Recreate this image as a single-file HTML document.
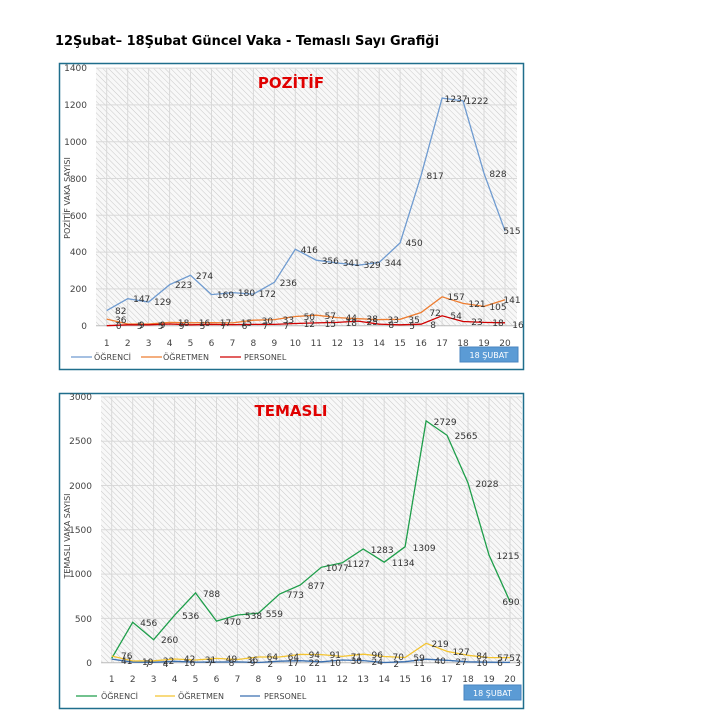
<!DOCTYPE html>
<html><head><meta charset="utf-8"><style>
body{margin:0;background:#fff;width:714px;height:727px;overflow:hidden}
svg{display:block}
text{font-family:"DejaVu Sans","Liberation Sans",sans-serif}
</style></head><body>
<svg width="714" height="727" viewBox="0 0 714 727" xmlns="http://www.w3.org/2000/svg">
<defs>
<pattern id="h" width="4" height="4" patternUnits="userSpaceOnUse" patternTransform="rotate(-45)">
<rect width="4" height="4" fill="#f8f8f8"/><line x1="0" y1="0" x2="0" y2="4" stroke="#c9c9c9" stroke-width="1"/>
</pattern>
</defs>
<text x="55" y="45" font-size="13" font-weight="bold" fill="#000" textLength="384" lengthAdjust="spacingAndGlyphs">12Şubat– 18Şubat Güncel Vaka - Temaslı Sayı Grafiği</text>

<!-- CHART 1 -->
<rect x="59.5" y="63.5" width="464" height="306" fill="#fff" stroke="#1f6e8c" stroke-width="1.5"/>
<rect x="96" y="68" width="421" height="258" fill="url(#h)"/>
<g stroke="#d9d9d9" stroke-width="1">
<line x1="96" x2="517" y1="288.9" y2="288.9"/><line x1="96" x2="517" y1="252.1" y2="252.1"/><line x1="96" x2="517" y1="215.3" y2="215.3"/><line x1="96" x2="517" y1="178.5" y2="178.5"/><line x1="96" x2="517" y1="141.7" y2="141.7"/><line x1="96" x2="517" y1="104.9" y2="104.9"/><line x1="96" x2="517" y1="68.1" y2="68.1"/>
<line x1="106.7" x2="106.7" y1="68" y2="326"/><line x1="127.7" x2="127.7" y1="68" y2="326"/><line x1="148.6" x2="148.6" y1="68" y2="326"/><line x1="169.6" x2="169.6" y1="68" y2="326"/><line x1="190.5" x2="190.5" y1="68" y2="326"/><line x1="211.5" x2="211.5" y1="68" y2="326"/><line x1="232.5" x2="232.5" y1="68" y2="326"/><line x1="253.4" x2="253.4" y1="68" y2="326"/><line x1="274.4" x2="274.4" y1="68" y2="326"/><line x1="295.3" x2="295.3" y1="68" y2="326"/><line x1="316.3" x2="316.3" y1="68" y2="326"/><line x1="337.3" x2="337.3" y1="68" y2="326"/><line x1="358.2" x2="358.2" y1="68" y2="326"/><line x1="379.2" x2="379.2" y1="68" y2="326"/><line x1="400.1" x2="400.1" y1="68" y2="326"/><line x1="421.1" x2="421.1" y1="68" y2="326"/><line x1="442.1" x2="442.1" y1="68" y2="326"/><line x1="463" x2="463" y1="68" y2="326"/><line x1="484" x2="484" y1="68" y2="326"/><line x1="505" x2="505" y1="68" y2="326"/>
<line x1="96" x2="517" y1="325.7" y2="325.7" stroke="#bbb"/>
</g>
<g font-size="9" fill="#444" text-anchor="end">
<text x="87" y="329">0</text><text x="87" y="292">200</text><text x="87" y="255">400</text><text x="87" y="219">600</text><text x="87" y="182">800</text><text x="87" y="145">1000</text><text x="87" y="108">1200</text><text x="87" y="71">1400</text>
</g>
<text transform="translate(70,198) rotate(-90)" font-size="8" fill="#444" text-anchor="middle">POZİTİF VAKA SAYISI</text>
<text x="291" y="88" font-size="15" font-weight="bold" fill="#e00000" text-anchor="middle">POZİTİF</text>
<g font-size="9" fill="#444" text-anchor="middle">
<text x="106.7" y="346">1</text><text x="127.7" y="346">2</text><text x="148.6" y="346">3</text><text x="169.6" y="346">4</text><text x="190.5" y="346">5</text><text x="211.5" y="346">6</text><text x="232.5" y="346">7</text><text x="253.4" y="346">8</text><text x="274.4" y="346">9</text><text x="295.3" y="346">10</text><text x="316.3" y="346">11</text><text x="337.3" y="346">12</text><text x="358.2" y="346">13</text><text x="379.2" y="346">14</text><text x="400.1" y="346">15</text><text x="421.1" y="346">16</text><text x="442.1" y="346">17</text><text x="463" y="346">18</text><text x="484" y="346">19</text><text x="505" y="346">20</text>
</g>
<polyline fill="none" stroke="#6f9bd0" stroke-width="1.3" points="106.7,310.6 127.7,298.7 148.6,302 169.6,284.7 190.5,275.3 211.5,294.6 232.5,292.6 253.4,294.1 274.4,282.3 295.3,249.2 316.3,260.2 337.3,263 358.2,265.2 379.2,262.4 400.1,242.9 421.1,175.4 442.1,98.1 463,100.9 484,173.3 505,230.9"/>
<polyline fill="none" stroke="#ed7d31" stroke-width="1.3" points="106.7,319.1 127.7,324 148.6,324 169.6,322.4 190.5,322.8 211.5,322.6 232.5,322.9 253.4,320.2 274.4,319.6 295.3,316.5 316.3,315.2 337.3,317.6 358.2,318.7 379.2,319.6 400.1,319.3 421.1,312.5 442.1,296.8 463,303.4 484,306.4 505,299.8"/>
<polyline fill="none" stroke="#d00000" stroke-width="1.3" points="106.7,325.7 127.7,324.8 148.6,324.8 169.6,324 190.5,324.8 211.5,324.4 232.5,324.6 253.4,324.4 274.4,324.4 295.3,323.5 316.3,322.9 337.3,322.4 358.2,321.1 379.2,324.2 400.1,324.8 421.1,324.2 442.1,315.8 463,321.5 484,322.4 505,322.8"/>
<g font-size="9" fill="#333" text-anchor="middle">
<text x="120.7" y="314">82</text><text x="141.7" y="302">147</text><text x="162.6" y="305">129</text><text x="183.6" y="288">223</text><text x="204.5" y="279">274</text><text x="225.5" y="298">169</text><text x="246.5" y="296">180</text><text x="267.4" y="297">172</text><text x="288.4" y="286">236</text><text x="309.3" y="253">416</text><text x="330.3" y="264">356</text><text x="351.3" y="266">341</text><text x="372.2" y="268">329</text><text x="393.2" y="266">344</text><text x="414.1" y="246">450</text><text x="435.1" y="179">817</text><text x="456.1" y="102">1237</text><text x="477" y="104">1222</text><text x="498" y="177">828</text><text x="512" y="234">515</text>
<text x="120.7" y="323">36</text><text x="141.7" y="328">9</text><text x="162.6" y="328">9</text><text x="183.6" y="326">18</text><text x="204.5" y="326">16</text><text x="225.5" y="326">17</text><text x="246.5" y="326">15</text><text x="267.4" y="324">30</text><text x="288.4" y="323">33</text><text x="309.3" y="320">50</text><text x="330.3" y="319">57</text><text x="351.3" y="321">44</text><text x="372.2" y="322">38</text><text x="393.2" y="323">33</text><text x="414.1" y="323">35</text><text x="435.1" y="316">72</text><text x="456.1" y="300">157</text><text x="477" y="307">121</text><text x="498" y="310">105</text><text x="512" y="303">141</text>
<text x="118.7" y="329">0</text><text x="139.7" y="329">5</text><text x="160.6" y="329">5</text><text x="181.6" y="329">9</text><text x="202.5" y="329">5</text><text x="223.5" y="329">7</text><text x="244.5" y="329">6</text><text x="265.4" y="329">7</text><text x="286.4" y="329">7</text><text x="309.3" y="327">12</text><text x="330.3" y="327">15</text><text x="351.3" y="326">18</text><text x="372.2" y="325">25</text><text x="391.2" y="328">8</text><text x="412.1" y="329">5</text><text x="433.1" y="328">8</text><text x="456.1" y="319">54</text><text x="477" y="325">23</text><text x="498" y="326">18</text><text x="518" y="328">16</text>
</g>
<g font-size="8" fill="#444">
<line x1="71" x2="92" y1="357" y2="357" stroke="#6f9bd0" stroke-width="1.3"/><text x="94" y="360">ÖĞRENCİ</text>
<line x1="141" x2="162" y1="357" y2="357" stroke="#ed7d31" stroke-width="1.3"/><text x="163" y="360">ÖĞRETMEN</text>
<line x1="220" x2="241" y1="357" y2="357" stroke="#d00000" stroke-width="1.3"/><text x="244" y="360">PERSONEL</text>
</g>
<rect x="460" y="347" width="58" height="15" fill="#5b9bd5" stroke="#4a86c0"/>
<text x="489" y="358" font-size="8" fill="#fff" text-anchor="middle">18 ŞUBAT</text>

<!-- CHART 2 -->
<rect x="59.5" y="393.5" width="464" height="315" fill="#fff" stroke="#1f6e8c" stroke-width="1.5"/>
<rect x="101" y="397" width="421" height="266" fill="url(#h)"/>
<g stroke="#d9d9d9" stroke-width="1">
<line x1="101" x2="522" y1="618.4" y2="618.4"/><line x1="101" x2="522" y1="574.1" y2="574.1"/><line x1="101" x2="522" y1="529.8" y2="529.8"/><line x1="101" x2="522" y1="485.5" y2="485.5"/><line x1="101" x2="522" y1="441.2" y2="441.2"/><line x1="101" x2="522" y1="396.9" y2="396.9"/>
<line x1="111.7" x2="111.7" y1="397" y2="663"/><line x1="132.7" x2="132.7" y1="397" y2="663"/><line x1="153.6" x2="153.6" y1="397" y2="663"/><line x1="174.6" x2="174.6" y1="397" y2="663"/><line x1="195.5" x2="195.5" y1="397" y2="663"/><line x1="216.5" x2="216.5" y1="397" y2="663"/><line x1="237.5" x2="237.5" y1="397" y2="663"/><line x1="258.4" x2="258.4" y1="397" y2="663"/><line x1="279.4" x2="279.4" y1="397" y2="663"/><line x1="300.3" x2="300.3" y1="397" y2="663"/><line x1="321.3" x2="321.3" y1="397" y2="663"/><line x1="342.3" x2="342.3" y1="397" y2="663"/><line x1="363.2" x2="363.2" y1="397" y2="663"/><line x1="384.2" x2="384.2" y1="397" y2="663"/><line x1="405.1" x2="405.1" y1="397" y2="663"/><line x1="426.1" x2="426.1" y1="397" y2="663"/><line x1="447.1" x2="447.1" y1="397" y2="663"/><line x1="468" x2="468" y1="397" y2="663"/><line x1="489" x2="489" y1="397" y2="663"/><line x1="510" x2="510" y1="397" y2="663"/>
<line x1="101" x2="522" y1="662.7" y2="662.7" stroke="#bbb"/>
</g>
<g font-size="9" fill="#444" text-anchor="end">
<text x="92" y="666">0</text><text x="92" y="622">500</text><text x="92" y="577">1000</text><text x="92" y="533">1500</text><text x="92" y="489">2000</text><text x="92" y="444">2500</text><text x="92" y="400">3000</text>
</g>
<text transform="translate(70,536) rotate(-90)" font-size="8" fill="#444" text-anchor="middle">TEMASLI VAKA SAYISI</text>
<text x="291" y="416" font-size="15" font-weight="bold" fill="#e00000" text-anchor="middle">TEMASLI</text>
<g font-size="9" fill="#444" text-anchor="middle">
<text x="111.7" y="682">1</text><text x="132.7" y="682">2</text><text x="153.6" y="682">3</text><text x="174.6" y="682">4</text><text x="195.5" y="682">5</text><text x="216.5" y="682">6</text><text x="237.5" y="682">7</text><text x="258.4" y="682">8</text><text x="279.4" y="682">9</text><text x="300.3" y="682">10</text><text x="321.3" y="682">11</text><text x="342.3" y="682">12</text><text x="363.2" y="682">13</text><text x="384.2" y="682">14</text><text x="405.1" y="682">15</text><text x="426.1" y="682">16</text><text x="447.1" y="682">17</text><text x="468" y="682">18</text><text x="489" y="682">19</text><text x="510" y="682">20</text>
</g>
<polyline fill="none" stroke="#1e9e4a" stroke-width="1.3" points="111.7,658.3 132.7,622.3 153.6,639.7 174.6,615.2 195.5,592.9 216.5,621.1 237.5,615 258.4,613.2 279.4,594.2 300.3,585 321.3,567.3 342.3,562.8 363.2,549 384.2,562.2 405.1,546.7 426.1,420.9 447.1,435.4 468,483 489,555 510,601.6"/>
<polyline fill="none" stroke="#f4c430" stroke-width="1.3" points="111.7,656 132.7,661 153.6,660.8 174.6,659 195.5,660 216.5,658.4 237.5,659.5 258.4,657 279.4,657 300.3,654.4 321.3,654.6 342.3,656.4 363.2,654.2 384.2,656.5 405.1,657.5 426.1,643.3 447.1,651.4 468,655.3 489,657.6 510,657.6"/>
<polyline fill="none" stroke="#3a6fb0" stroke-width="1.3" points="111.7,659.1 132.7,662.1 153.6,662.3 174.6,661.3 195.5,662.1 216.5,662 237.5,661.9 258.4,662.5 279.4,661.2 300.3,660.7 321.3,661.8 342.3,660 363.2,660.6 384.2,662.5 405.1,661.7 426.1,659.2 447.1,660.3 468,661.8 489,662.2 510,662.4"/>
<g font-size="9" fill="#333" text-anchor="middle">
<text x="148.7" y="626">456</text><text x="169.6" y="643">260</text><text x="190.6" y="619">536</text><text x="211.5" y="597">788</text><text x="232.5" y="625">470</text><text x="253.5" y="619">538</text><text x="274.4" y="617">559</text><text x="295.4" y="598">773</text><text x="316.3" y="589">877</text><text x="337.3" y="571">1077</text><text x="358.3" y="567">1127</text><text x="382.2" y="553">1283</text><text x="403.2" y="566">1134</text><text x="424.1" y="551">1309</text><text x="445.1" y="425">2729</text><text x="466.1" y="439">2565</text><text x="487" y="487">2028</text><text x="508" y="559">1215</text><text x="511" y="605">690</text>
<text x="126.7" y="659">76</text><text x="147.7" y="665">19</text><text x="168.6" y="664">22</text><text x="189.6" y="662">42</text><text x="210.5" y="663">31</text><text x="231.5" y="662">49</text><text x="252.5" y="663">36</text><text x="272.4" y="660">64</text><text x="293.4" y="660">64</text><text x="314.3" y="658">94</text><text x="335.3" y="658">91</text><text x="356.3" y="660">71</text><text x="377.2" y="658">96</text><text x="398.2" y="660">70</text><text x="419.1" y="661">59</text><text x="440.1" y="647">219</text><text x="461.1" y="655">127</text><text x="482" y="659">84</text><text x="503" y="661">57</text><text x="515" y="661">57</text>
<text x="126.7" y="664">41</text><text x="147.7" y="667">7</text><text x="165.6" y="667">4</text><text x="189.6" y="666">16</text><text x="210.5" y="666">7</text><text x="231.5" y="666">8</text><text x="252.5" y="666">9</text><text x="270.4" y="667">2</text><text x="293.4" y="666">17</text><text x="314.3" y="666">22</text><text x="335.3" y="666">10</text><text x="356.3" y="664">30</text><text x="377.2" y="665">24</text><text x="396.2" y="667">2</text><text x="419.1" y="666">11</text><text x="440.1" y="664">40</text><text x="461.1" y="665">27</text><text x="482" y="666">10</text><text x="500" y="666">6</text><text x="518" y="666">3</text>
</g>
<g font-size="8" fill="#444">
<line x1="76" x2="97" y1="696" y2="696" stroke="#1e9e4a" stroke-width="1.3"/><text x="101" y="699">ÖĞRENCİ</text>
<line x1="155" x2="175" y1="696" y2="696" stroke="#f4c430" stroke-width="1.3"/><text x="178" y="699">ÖĞRETMEN</text>
<line x1="240" x2="260" y1="696" y2="696" stroke="#3a6fb0" stroke-width="1.3"/><text x="264" y="699">PERSONEL</text>
</g>
<rect x="464" y="685" width="57" height="15" fill="#5b9bd5" stroke="#4a86c0"/>
<text x="492.5" y="696" font-size="8" fill="#fff" text-anchor="middle">18 ŞUBAT</text>
</svg>
</body></html>
